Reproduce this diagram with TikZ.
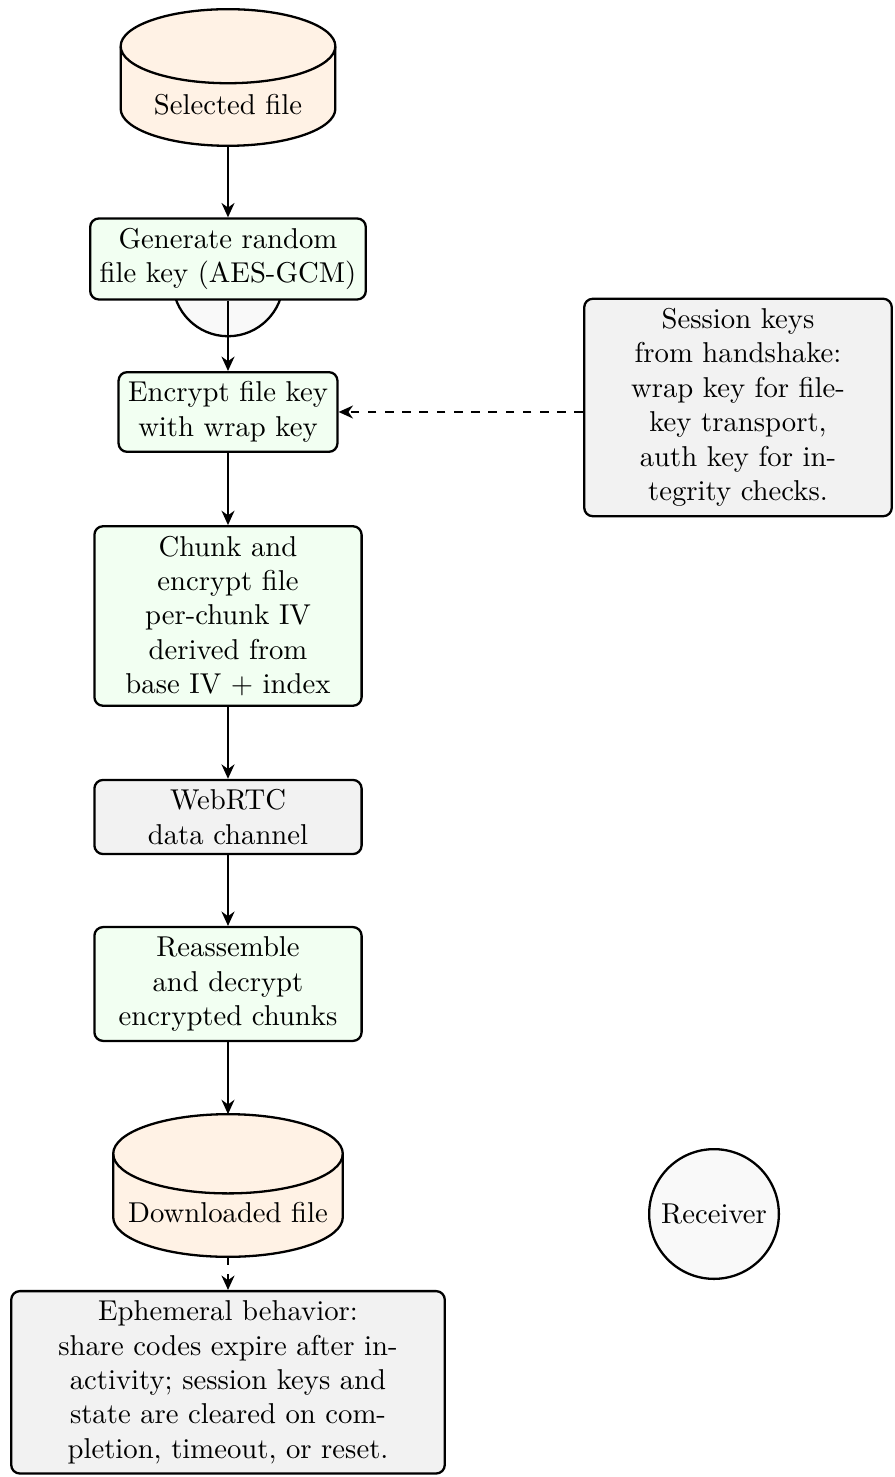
\documentclass[tikz,border=0pt]{standalone}
\usetikzlibrary{arrows.meta,backgrounds}
\newcommand{\dbshape}[3]{%
  \draw[dbline] ([yshift=-#3]#1.north west) -- ([yshift=#3]#1.south west)
    arc[start angle=180,end angle=360,x radius=#2,y radius=#3]
    -- ([yshift=-#3]#1.north east)
    arc[start angle=0,end angle=180,x radius=#2,y radius=#3] -- cycle;
  \draw[dbline,fill=none] ([yshift=-#3]#1.north west)
    arc[start angle=180,end angle=360,x radius=#2,y radius=#3];
}
\begin{document}
\begin{tikzpicture}[x=0.34843pt,y=-0.34843pt,
  base/.style={draw=black, thick, align=center},
  proc/.style={base, rounded corners=3pt, fill=green!5},
  note/.style={base, rounded corners=3pt, fill=gray!10},
  wide/.style={minimum width=93.1pt},
  db/.style={draw=none, inner sep=0pt, outer sep=0pt, text height=26.1pt, text depth=0pt},
  dbline/.style={draw=black, thick, fill=orange!10},
  actor/.style={base, circle, fill=gray!5, inner sep=0pt},
  arr/.style={thick, -{Stealth[length=5pt,width=4.5pt,inset=1.6pt]}},
]
\useasboundingbox (0,0) rectangle (894,1477);

\node[db, minimum width=74.8pt, minimum height=47.6pt] (sel) at (228,77.5) {Selected file};
\node[actor, minimum size=38.5pt] (snd) at (228,281) {};
\node[proc] (gen) at (228,259) {Generate random\\file key (AES-GCM)};
\node[proc] (enc) at (228,412) {Encrypt file key\\with wrap key};
\node[proc, wide] (chunk) at (228,616) {Chunk and\\encrypt file\\per-chunk IV\\derived from\\base IV + index};
\node[note, wide] (rtc) at (228,817) {WebRTC\\data channel};
\node[proc, wide] (reas) at (228,984) {Reassemble\\and decrypt\\encrypted chunks};
\node[db, minimum width=80pt, minimum height=49.7pt] (down) at (228,1185.5) {Downloaded file};
\node[note, text width=100.5pt] (sess) at (738,407.5) {Session keys\\from handshake:\\wrap key for file-\\key transport,\\auth key for in-\\tegrity checks.};
\node[note, text width=144.4pt] (eph) at (228,1382.3) {Ephemeral behavior:\\share codes expire after in-\\activity; session keys and\\state are cleared on com-\\pletion, timeout, or reset.};
\node[actor, minimum size=45.2pt] (recv) at (714,1214) {Receiver};

\begin{scope}[on background layer]
  \dbshape{sel}{37.4pt}{12.9pt}
  \dbshape{down}{40pt}{13.8pt}
\end{scope}

\draw[arr] (sel) -- (gen);
\draw[arr] (gen) -- (enc);
\draw[arr] (enc) -- (chunk);
\draw[arr] (chunk) -- (rtc);
\draw[arr] (rtc) -- (reas);
\draw[arr] (reas) -- (down);
\draw[arr, dashed] (down) -- (eph);
\draw[arr, dashed] (sess.west |- enc.east) -- (enc.east);
\end{tikzpicture}
\end{document}
